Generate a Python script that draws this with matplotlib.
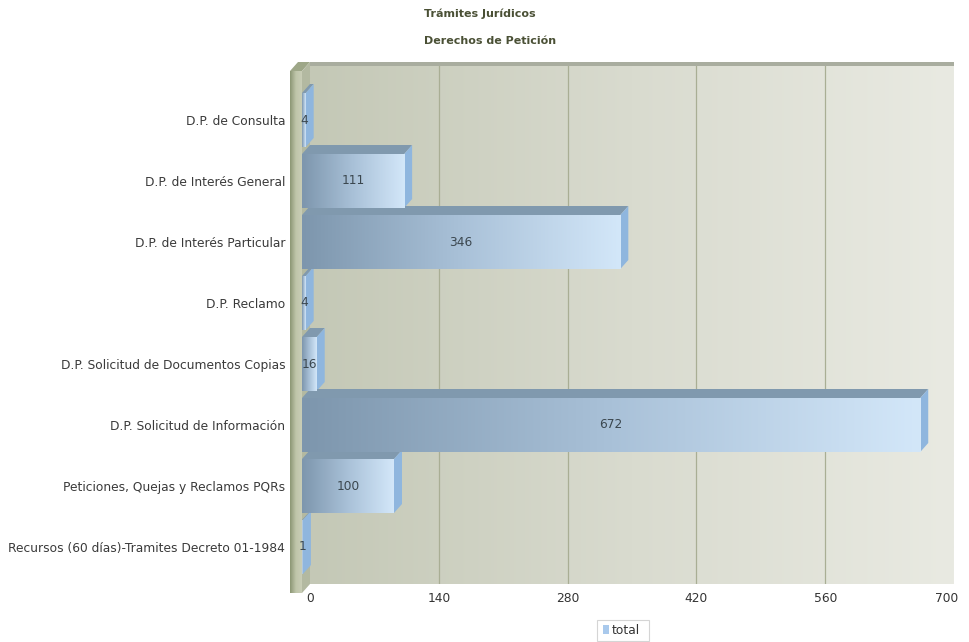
import numpy as np
import matplotlib
matplotlib.use("Agg")
import matplotlib.pyplot as plt
import matplotlib.transforms as mtransforms
from matplotlib.colors import LinearSegmentedColormap
from matplotlib.patches import Polygon, Rectangle

# ---------------- data ----------------
categories = [
    "D.P. de Consulta",
    "D.P. de Interés General",
    "D.P. de Interés Particular",
    "D.P. Reclamo",
    "D.P. Solicitud de Documentos Copias",
    "D.P. Solicitud de Información",
    "Peticiones, Quejas y Reclamos PQRs",
    "Recursos (60 días)-Tramites Decreto 01-1984",
]
values = [4, 111, 346, 4, 16, 672, 100, 1]
x_ticks = [0, 140, 280, 420, 560, 700]
title_lines = ["Trámites Jurídicos", "Derechos de Petición"]
series_name = "total"

W, H = 969, 642
fig = plt.figure(figsize=(W / 100, H / 100), dpi=100)
fig.patch.set_facecolor("white")


def fx(x):
    return x / W


def fy(y):
    return 1 - y / H


# geometry (pixels)
FL, FR, FT, FB = 302, 946, 71, 593  # front plane
DX, DY = 8, 9                      # 3D depth offset
BL, BR, BT, BB = FL + DX, FR + DX, FT - DY, FB - DY

# ---------------- back wall ----------------
axb = fig.add_axes([fx(BL), fy(BB), fx(BR - BL), (BB - BT) / H])
axb.set_zorder(0)
wall_cmap = LinearSegmentedColormap.from_list("wall", ["#c4c8b6", "#d9dbcf", "#e9eae2"])
grad = np.linspace(0, 1, 256).reshape(1, -1)
axb.imshow(grad, cmap=wall_cmap, aspect="auto", extent=(0, 1, 0, 1),
           transform=axb.transAxes, zorder=0)
axb.add_patch(Rectangle((0, 1 - 4 / (BB - BT)), 1, 4 / (BB - BT), transform=axb.transAxes,
                        facecolor="#a9ad9f", edgecolor="none", zorder=1))
axb.set_xlim(0, 700)
axb.set_ylim(0, 1)
for t in x_ticks[1:-1]:
    axb.axvline(t, color="#a9ae94", lw=0.9, zorder=0.5)
axb.set_xticks(x_ticks)
axb.set_xticklabels([str(t) for t in x_ticks], fontsize=8.8, color="#333333")
axb.tick_params(axis="x", length=0, pad=6)
last = axb.get_xticklabels()[-1]
last.set_transform(last.get_transform() + mtransforms.ScaledTranslation(-7 / 100, 0, fig.dpi_scale_trans))
axb.set_yticks([])
for s in axb.spines.values():
    s.set_visible(False)

# ---------------- left wall ----------------
axw = fig.add_axes([fx(290), fy(FB), fx(FL - 290), (FB - FT) / H])
axw.set_zorder(0.5)
lw_cmap = LinearSegmentedColormap.from_list("lw", ["#8b9674", "#bfc6aa", "#c9cdb6"])
axw.imshow(grad, cmap=lw_cmap, aspect="auto", extent=(0, 1, 0, 1))
axw.set_axis_off()
fig.add_artist(Polygon([(fx(290), fy(FT)), (fx(FL), fy(FT)), (fx(FL + DX), fy(BT)), (fx(290 + DX), fy(BT))],
                       closed=True, facecolor="#9ea788", edgecolor="none", transform=fig.transFigure,
                       zorder=-1))
fig.add_artist(Polygon([(fx(FL), fy(FT)), (fx(FL + DX), fy(BT)), (fx(FL + DX), fy(BB)), (fx(FL), fy(FB))],
                       closed=True, facecolor="#b3b9a1", edgecolor="none", transform=fig.transFigure,
                       zorder=-1))

# ---------------- front axes with bars ----------------
ax = fig.add_axes([fx(FL), fy(FB), fx(FR - FL), (FB - FT) / H])
ax.set_zorder(2)
ax.patch.set_alpha(0)
row_px = 61.0
first_row = 120.0
y0 = (FT - first_row) / row_px
y1 = (FB - first_row) / row_px
ax.set_xlim(0, 700)
ax.set_ylim(y1, y0)

px_per_unit = (FR - FL) / 700.0
dxd = DX / px_per_unit
dyd = DY / row_px
h = 0.885

bar_cmap = LinearSegmentedColormap.from_list("bar", ["#7d96ad", "#a9c1d8", "#d3e7f9"])
ypos = np.arange(len(categories))

# top and side faces first
for y, v in zip(ypos, values):
    yt, yb = y - h / 2, y + h / 2
    ax.add_patch(Polygon([(0, yt), (v, yt), (v + dxd, yt - dyd), (dxd, yt - dyd)], closed=True,
                         facecolor="#8099ae", edgecolor="none", zorder=2, clip_on=False))
    ax.add_patch(Polygon([(v, yt), (v + dxd, yt - dyd), (v + dxd, yb - dyd), (v, yb)], closed=True,
                         facecolor="#8fb6de", edgecolor="none", zorder=2, clip_on=False))
# front faces
for y, v in zip(ypos, values):
    yt, yb = y - h / 2, y + h / 2
    ax.imshow(grad, cmap=bar_cmap, aspect="auto", extent=(0, v, yb, yt), zorder=3,
              interpolation="bilinear")
    ax.text(v / 2, y, str(v), ha="center", va="center", fontsize=8.8, color="#3b474f", zorder=5)

ax.set_xlim(0, 700)
ax.set_ylim(y1, y0)
ax.set_xticks([])
ax.set_yticks(ypos)
ax.set_yticklabels(categories, fontsize=8.8, color="#3a3a3a")
ax.tick_params(axis="y", length=0, pad=12)
for s in ax.spines.values():
    s.set_visible(False)

# ---------------- titles ----------------
fig.text(fx(480), fy(14), title_lines[0], ha="center", va="center", fontsize=8,
         fontweight="bold", color="#4a5035")
fig.text(fx(490), fy(41), title_lines[1], ha="center", va="center", fontsize=8,
         fontweight="bold", color="#4a5035")

# ---------------- legend ----------------
fig.add_artist(Rectangle((fx(597), fy(641)), fx(52), 21 / H, transform=fig.transFigure,
                         facecolor="white", edgecolor="#d5d5d5", lw=0.8))
fig.add_artist(Rectangle((fx(603), fy(634)), fx(6), 9 / H, transform=fig.transFigure,
                         facecolor="#a9c9ec", edgecolor="none"))
fig.text(fx(612), fy(630), series_name, ha="left", va="center", fontsize=8.8, color="#333333")

fig.savefig("out.png", dpi=100, facecolor="white")
